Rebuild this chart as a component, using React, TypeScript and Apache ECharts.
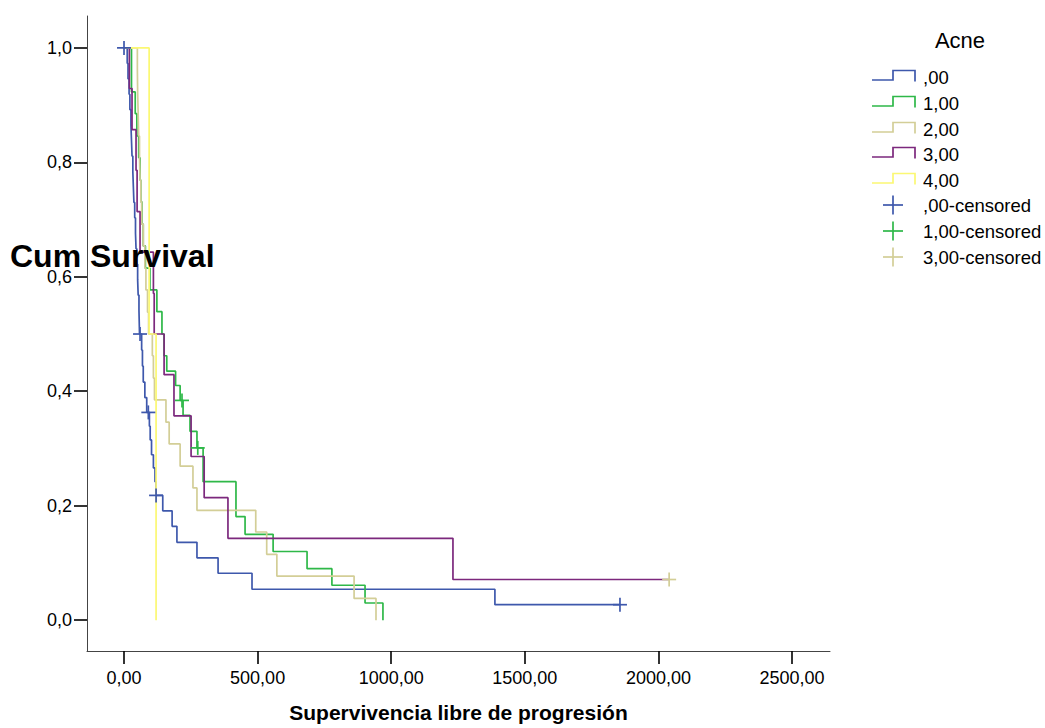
import React, { useEffect, useRef } from 'react';
import * as echarts from 'echarts';

const FONT = '"Liberation Sans", Arial, sans-serif';
const COLORS = ['#3E58AC', '#2EB848', '#D3CE97', '#7C287D', '#FBF873'];
const GROUPS = [',00', '1,00', '2,00', '3,00', '4,00'];
const CENSORED_LABELS = [',00-censored', '1,00-censored', '3,00-censored'];
const CENSORED_COLORS = ['#3E58AC', '#2EB848', '#D3CE97'];
const LEGEND_TITLE = 'Acne';
const X_TITLE = 'Supervivencia libre de progresión';
const Y_TITLE = 'Cum Survival';

const X_TICKS = [0, 500, 1000, 1500, 2000, 2500];
const Y_TICKS = [0, 0.2, 0.4, 0.6, 0.8, 1.0];

// Kaplan-Meier step curves: time at which survival becomes the given value
const t00 = [0, 12, 15, 19, 22, 26, 28, 30, 33, 35, 37, 40, 43, 45, 48, 51, 53, 56, 58, 66, 69, 72, 78, 85, 95, 98, 103, 110, 116, 120, 145, 180, 198, 273, 352, 479, 1388, 1856];
const s00 = [1, 0.973, 0.946, 0.919, 0.892, 0.865, 0.838, 0.811, 0.784, 0.757, 0.73, 0.703, 0.676, 0.649, 0.622, 0.595, 0.568, 0.541, 0.5, 0.472, 0.444, 0.416, 0.389, 0.363, 0.339, 0.315, 0.289, 0.266, 0.242, 0.218, 0.191, 0.164, 0.136, 0.109, 0.082, 0.054, 0.027, 0.027];

const t01 = [0, 28, 42, 48, 55, 60, 63, 67, 72, 80, 97, 123, 142, 150, 160, 193, 210, 221, 247, 273, 296, 419, 453, 558, 685, 778, 902, 969];
const s01 = [1, 0.923, 0.885, 0.846, 0.808, 0.769, 0.731, 0.692, 0.654, 0.615, 0.577, 0.539, 0.5, 0.462, 0.435, 0.41, 0.384, 0.358, 0.33, 0.301, 0.242, 0.181, 0.15, 0.12, 0.09, 0.061, 0.03, 0];

const t02 = [0, 50, 51, 53, 55, 58, 60, 63, 66, 72, 78, 82, 88, 92, 106, 110, 114, 157, 169, 210, 258, 273, 493, 534, 572, 861, 943];
const s02 = [1, 0.962, 0.923, 0.885, 0.846, 0.808, 0.769, 0.731, 0.692, 0.654, 0.615, 0.577, 0.538, 0.5, 0.462, 0.423, 0.385, 0.346, 0.308, 0.269, 0.231, 0.192, 0.154, 0.115, 0.077, 0.038, 0];

const t03 = [0, 20, 30, 45, 49, 60, 110, 113, 150, 187, 251, 300, 389, 1231, 2040];
const s03 = [1, 0.929, 0.857, 0.786, 0.714, 0.643, 0.571, 0.5, 0.429, 0.357, 0.286, 0.214, 0.143, 0.071, 0.071];

const t04 = [0, 94, 120];
const s04 = [1, 0.5, 0];

const censT00 = [0, 60, 91, 120, 1856];
const censS00 = [1, 0.5, 0.363, 0.218, 0.027];
const censT01 = [217, 276];
const censS01 = [0.384, 0.301];
const censT03 = [2040];
const censS03 = [0.071];

const CURVES_T = [t00, t01, t02, t03, t04];
const CURVES_S = [s00, s01, s02, s03, s04];
const CENS_T = [censT00, censT01, censT03];
const CENS_S = [censS00, censS01, censS03];

const fmtX = (v: number) => v.toFixed(2).replace('.', ',');
const fmtY = (v: number) => v.toFixed(1).replace('.', ',');

export default function App() {
  const ref = useRef<HTMLDivElement>(null);
  useEffect(() => {
    if (!ref.current) return;
    const chart = echarts.init(ref.current, null, { renderer: 'svg' });

    const lineSeries = CURVES_T.map((ts, i) => ({
      type: 'line',
      name: GROUPS[i],
      step: 'end',
      showSymbol: false,
      symbol: 'none',
      data: ts.map((t, j) => [t, CURVES_S[i][j]]),
      lineStyle: { color: COLORS[i], width: 1.7 },
      itemStyle: { color: COLORS[i] },
      z: 2 + i,
      silent: true,
    }));

    const censSeries = CENS_T.map((ts, i) => ({
      type: 'custom',
      name: CENSORED_LABELS[i],
      clip: false,
      z: 10,
      silent: true,
      data: ts.map((t, j) => [t, CENS_S[i][j]]),
      renderItem: (params: any, api: any) => {
        const p = api.coord([api.value(0), api.value(1)]);
        const st = { stroke: CENSORED_COLORS[i], lineWidth: 1.7 };
        return {
          type: 'group',
          children: [
            { type: 'line', shape: { x1: p[0] - 7, y1: p[1], x2: p[0] + 7, y2: p[1] }, style: st },
            { type: 'line', shape: { x1: p[0], y1: p[1] - 7, x2: p[0], y2: p[1] + 7 }, style: st },
          ],
        };
      },
    }));

    // legend drawn as graphics
    const rowY = [77, 103, 129, 154, 180, 205, 231, 257];
    const legendEls: any[] = [
      { type: 'text', x: 960, y: 40, style: { text: LEGEND_TITLE, font: `22px ${FONT}`, fill: '#000', align: 'center', verticalAlign: 'middle' } },
    ];
    GROUPS.forEach((g, i) => {
      const yc = rowY[i];
      legendEls.push({
        type: 'polyline',
        shape: { points: [[872, yc + 3], [893, yc + 3], [893, yc - 6.5], [915, yc - 6.5], [915, yc + 4.5]] },
        style: { stroke: COLORS[i], lineWidth: 1.7, fill: 'none' },
      });
      legendEls.push({ type: 'text', x: 923, y: yc, style: { text: g, font: `18.5px ${FONT}`, fill: '#000', verticalAlign: 'middle' } });
    });
    CENSORED_LABELS.forEach((g, i) => {
      const yc = rowY[5 + i];
      const st = { stroke: CENSORED_COLORS[i], lineWidth: 1.7 };
      legendEls.push({ type: 'line', shape: { x1: 883, y1: yc, x2: 903, y2: yc }, style: st });
      legendEls.push({ type: 'line', shape: { x1: 893, y1: yc - 9.5, x2: 893, y2: yc + 9.5 }, style: st });
      legendEls.push({ type: 'text', x: 923, y: yc, style: { text: g, font: `18.5px ${FONT}`, fill: '#000', verticalAlign: 'middle' } });
    });

    chart.setOption({
      animation: false,
      backgroundColor: '#fff',
      grid: { left: 87, right: 215, top: 16, bottom: 74, containLabel: false },
      xAxis: {
        type: 'value',
        min: -138.5,
        max: 2642,
        name: X_TITLE,
        nameLocation: 'middle',
        nameGap: 51,
        nameTextStyle: { fontFamily: FONT, fontSize: 21, fontWeight: 'bold', color: '#000' },
        splitLine: { show: false },
        axisLine: { show: true, onZero: false, lineStyle: { color: '#444', width: 1 } },
        axisTick: { show: true, length: 13, customValues: X_TICKS, lineStyle: { color: '#000', width: 1.6 } },
        axisLabel: { show: true, customValues: X_TICKS, margin: 18, formatter: fmtX, fontFamily: FONT, fontSize: 18, color: '#000' },
      },
      yAxis: {
        type: 'value',
        min: -0.0539,
        max: 1.0557,
        splitLine: { show: false },
        axisLine: { show: true, onZero: false, lineStyle: { color: '#444', width: 1 } },
        axisTick: { show: true, length: 13, customValues: Y_TICKS, lineStyle: { color: '#000', width: 1.6 } },
        axisLabel: { show: true, customValues: Y_TICKS, margin: 15, formatter: fmtY, fontFamily: FONT, fontSize: 18, color: '#000' },
      },
      series: [...lineSeries, ...censSeries],
      graphic: [
        ...legendEls,
        { type: 'text', x: 10, y: 256, z: 100, style: { text: Y_TITLE, font: `bold 32px ${FONT}`, fill: '#000', verticalAlign: 'middle' } },
      ],
    });
    return () => chart.dispose();
  }, []);
  return <div ref={ref} style={{ position: 'fixed', left: 0, top: 0, width: 1045, height: 728, background: '#fff' }} />;
}
